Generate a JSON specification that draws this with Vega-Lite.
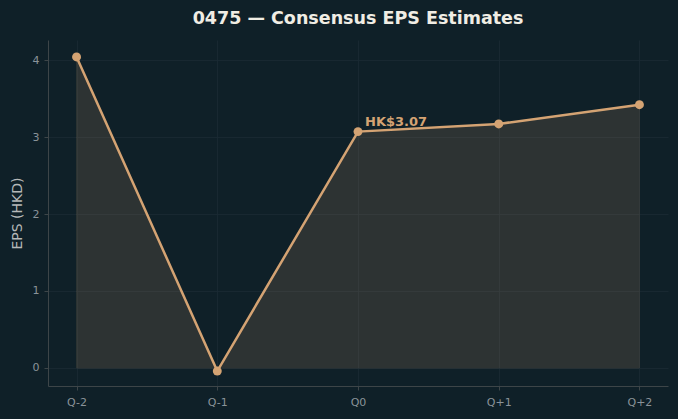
{
  "$schema": "https://vega.github.io/schema/vega-lite/v6.json",
  "width": 620,
  "height": 346,
  "padding": {"left": 48, "top": 40, "right": 10, "bottom": 33},
  "autosize": {"type": "none"},
  "background": "#0f2028",
  "config": {
    "view": {"stroke": null},
    "font": "DejaVu Sans"
  },
  "title": {
    "text": "0475 — Consensus EPS Estimates",
    "font": "DejaVu Sans",
    "fontSize": 17.5,
    "fontWeight": "bold",
    "color": "#f0ede4",
    "offset": 13
  },
  "data": {
    "values": [
      {"q": "Q-2", "eps": 4.04},
      {"q": "Q-1", "eps": -0.04},
      {"q": "Q0", "eps": 3.07},
      {"q": "Q+1", "eps": 3.17},
      {"q": "Q+2", "eps": 3.42}
    ]
  },
  "encoding": {
    "x": {
      "field": "q",
      "type": "ordinal",
      "sort": null,
      "scale": {"type": "point", "padding": 0.203},
      "axis": {
        "title": null,
        "labelAngle": 0,
        "labelColor": "#8a9399",
        "labelFontSize": 11,
        "labelPadding": 6,
        "tickColor": "#3d4548",
        "tickSize": 4,
        "domainColor": "#3d4548",
        "grid": true,
        "gridColor": "#1b2b33",
        "gridWidth": 0.8
      }
    },
    "y": {
      "field": "eps",
      "type": "quantitative",
      "scale": {"domain": [-0.234, 4.26], "nice": false, "zero": false},
      "axis": {
        "title": "EPS (HKD)",
        "titleColor": "#b5b8b8",
        "titleFontSize": 14,
        "titleFontWeight": "normal",
        "titlePadding": 8,
        "values": [0, 1, 2, 3, 4],
        "labelColor": "#8a9399",
        "labelFontSize": 11,
        "labelPadding": 5,
        "tickColor": "#3d4548",
        "tickSize": 4,
        "domainColor": "#3d4548",
        "grid": true,
        "gridColor": "#1b2b33",
        "gridWidth": 0.8
      }
    }
  },
  "layer": [
    {
      "mark": {"type": "area", "color": "#d4a373", "opacity": 0.15, "stroke": "#d4a373", "strokeOpacity": 1, "strokeWidth": 1},
      "encoding": {"y2": {"datum": 0}}
    },
    {
      "mark": {"type": "line", "color": "#d4a373", "strokeWidth": 2.5}
    },
    {
      "mark": {"type": "point", "filled": true, "color": "#d4a373", "opacity": 1, "size": 80}
    },
    {
      "transform": [{"filter": "datum.q === 'Q0'"}],
      "mark": {"type": "text", "align": "left", "baseline": "alphabetic", "dx": 7, "dy": -6, "color": "#d4a373", "fontSize": 13, "fontWeight": "bold", "font": "DejaVu Sans"},
      "encoding": {"text": {"value": "HK$3.07"}}
    }
  ]
}
